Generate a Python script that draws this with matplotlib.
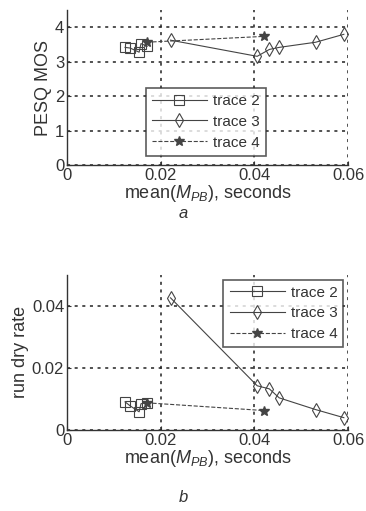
import numpy as np
import matplotlib.pyplot as plt

plt.rcParams['font.family'] = ['Liberation Sans', 'DejaVu Sans']
plt.rcParams['mathtext.fontset'] = 'custom'
plt.rcParams['mathtext.it'] = 'Liberation Sans:italic'
plt.rcParams['mathtext.rm'] = 'Liberation Sans'

# (a) PESQ MOS
t2_x = [0.0124, 0.0135, 0.0154, 0.0158, 0.0171]
t2_mos = [3.42, 3.40, 3.28, 3.53, 3.45]
t3_x = [0.0221, 0.0406, 0.0432, 0.0453, 0.0531, 0.0591]
t3_mos = [3.63, 3.16, 3.36, 3.42, 3.57, 3.80]
t4_x = [0.0170, 0.0421]
t4_mos = [3.57, 3.74]

# (b) run dry rate
t2_rd = [0.0090, 0.0077, 0.0058, 0.0084, 0.0087]
t3_rd = [0.0426, 0.0142, 0.0132, 0.0103, 0.0065, 0.0039]
t4_rd = [0.0087, 0.0062]

txt = '#333333'
fig = plt.figure(figsize=(3.66, 5.11), dpi=100)
ax1 = fig.add_axes([0.183, 0.677, 0.768, 0.303])
ax2 = fig.add_axes([0.183, 0.159, 0.768, 0.303])


def draw(ax, y2, y3, y4, ylim, yticks, ylab, legloc):
    ax.plot(t2_x, y2, '-', color='#444444', lw=0.8, marker='s', ms=6.5,
            mfc='none', mec='#444444', mew=0.8, label='trace 2')
    ax.plot(t3_x, y3, '-', color='#444444', lw=0.8, marker='d', ms=7.5,
            mfc='none', mec='#444444', mew=0.8, label='trace 3')
    ax.plot(t4_x, y4, '--', color='#444444', lw=0.8, marker='*', ms=7,
            mfc='#444444', mec='#444444', label='trace 4')
    ax.set_xlim(0, 0.06)
    ax.set_ylim(*ylim)
    ax.set_xticks([0, 0.02, 0.04, 0.06])
    ax.set_xticklabels(['0', '0.02', '0.04', '0.06'])
    ax.set_yticks(yticks)
    ax.grid(True, color='#222222', ls=(0, (2, 3)), lw=1.1)
    for s in ['top', 'right']:
        ax.spines[s].set_visible(False)
    for s in ['left', 'bottom']:
        ax.spines[s].set_color('#333333')
        ax.spines[s].set_linewidth(1.0)
    ax.tick_params(direction='in', length=3, labelsize=12, colors=txt, pad=2)
    ax.set_ylabel(ylab, fontsize=13, color=txt, labelpad=2)
    ax.set_xlabel(r'mean($M_{PB}$), seconds', fontsize=13, color=txt, labelpad=0)
    leg = ax.legend(loc=legloc, fontsize=11, handlelength=3.6, frameon=True,
                    fancybox=False, edgecolor='#333333', borderpad=0.4,
                    labelspacing=0.45, handletextpad=0.4, borderaxespad=0.3)
    leg.get_frame().set_linewidth(1.2)
    for t in leg.get_texts():
        t.set_color(txt)


draw(ax1, t2_mos, t3_mos, t4_mos, (0, 4.5), [0, 1, 2, 3, 4], 'PESQ MOS',
     (0.28, 0.06))
draw(ax2, t2_rd, t3_rd, t4_rd, (0, 0.05), [0, 0.02, 0.04], 'run dry rate',
     'upper right')
ax2.set_yticklabels(['0', '0.02', '0.04'])

fig.text(0.5, 0.573, 'a', style='italic', fontsize=12, color=txt, ha='center')
fig.text(0.5, 0.018, 'b', style='italic', fontsize=12, color=txt, ha='center')

fig.savefig('out.png', dpi=100)
